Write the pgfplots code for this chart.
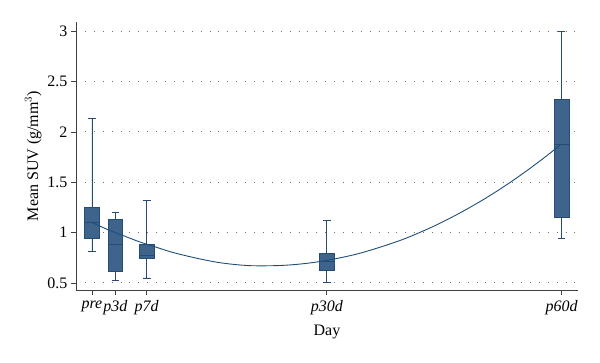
\documentclass[border=0pt]{standalone}
\usepackage{pgfplots}
\pgfplotsset{compat=1.18}
\usepgfplotslibrary{statistics}
\usepackage{fontspec}
\setmainfont{Liberation Serif}
\definecolor{boxfill}{RGB}{62,100,140}
\definecolor{boxdraw}{RGB}{38,76,116}
\definecolor{linec}{RGB}{30,78,122}
\begin{document}
\begin{tikzpicture}
\begin{axis}[
  at={(0,0)}, anchor=south west,
  scale only axis, width=502pt, height=268pt,
  xmin=-2.04, xmax=62.1, ymin=0.43, ymax=3.09,
  boxplot/draw direction=y,
  axis lines=left, axis line style={-, draw=black!75, line width=0.6pt},
  xtick={0,3,7,30,60},
  xticklabels={\textit{pre},\textit{p3d},\textit{p7d},\textit{p30d},\textit{p60d}},
  ytick={0.5,1,1.5,2,2.5,3},
  yticklabels={0.5,1,1.5,2,2.5,3},
  tick style={draw=black!75, line width=0.6pt},
  tick align=outside, major tick length=5pt,
  ymajorgrids, grid style={draw=black!55, line width=0.9pt, dash pattern=on 0.9pt off 8pt},
  font=\fontsize{16}{18}\selectfont,
  tick label style={font=\fontsize{16}{18}\selectfont},
  xticklabel style={yshift=-2pt},
  xlabel={Day}, ylabel={Mean SUV (g/mm$^3$)},
  xlabel style={font=\fontsize{16}{18}\selectfont, yshift=-3pt},
  ylabel style={font=\fontsize{16}{18}\selectfont, yshift=-1pt},
]
\addplot+[boxplot prepared={draw position=0, lower whisker=0.81, lower quartile=0.94, median=1.10, upper quartile=1.25, upper whisker=2.13, box extend=1.9, whisker extend=1.0},
  fill=boxfill, draw=boxdraw, line width=0.8pt, mark=none, solid] coordinates {};
\addplot+[boxplot prepared={draw position=3, lower whisker=0.525, lower quartile=0.61, median=0.88, upper quartile=1.13, upper whisker=1.20, box extend=1.9, whisker extend=1.0},
  fill=boxfill, draw=boxdraw, line width=0.8pt, mark=none, solid] coordinates {};
\addplot+[boxplot prepared={draw position=7, lower whisker=0.55, lower quartile=0.74, median=0.77, upper quartile=0.88, upper whisker=1.32, box extend=1.9, whisker extend=1.0},
  fill=boxfill, draw=boxdraw, line width=0.8pt, mark=none, solid] coordinates {};
\addplot+[boxplot prepared={draw position=30, lower whisker=0.505, lower quartile=0.62, median=0.71, upper quartile=0.795, upper whisker=1.12, box extend=1.9, whisker extend=1.0},
  fill=boxfill, draw=boxdraw, line width=0.8pt, mark=none, solid] coordinates {};
\addplot+[boxplot prepared={draw position=60, lower whisker=0.94, lower quartile=1.15, median=1.88, upper quartile=2.32, upper whisker=3.0, box extend=1.9, whisker extend=1.0},
  fill=boxfill, draw=boxdraw, line width=0.8pt, mark=none, solid] coordinates {};
\addplot[linec, line width=0.9pt, smooth, mark=none] coordinates {
(0,1.10) (2,1.03) (4,0.97) (6,0.91) (8,0.86) (10,0.81) (12,0.77) (14,0.735) (16,0.705) (18,0.685) (20,0.672) (22,0.67) (24,0.673) (26,0.683) (28,0.70) (30,0.724) (32,0.754) (34,0.79) (36,0.835) (38,0.885) (40,0.94) (42,1.005) (44,1.075) (46,1.153) (48,1.237) (50,1.327) (52,1.424) (54,1.528) (56,1.639) (58,1.756) (60,1.88)};
\end{axis}
\path (current axis.south west) ++(-76pt,-73pt) (current axis.north east) ++(22pt,22pt);
\end{tikzpicture}
\end{document}
